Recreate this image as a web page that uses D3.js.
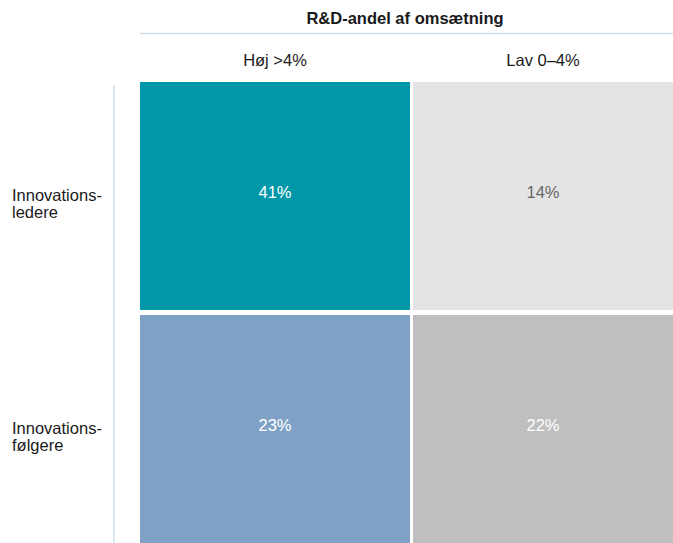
<!DOCTYPE html>
<html>
<head>
<meta charset="utf-8">
<script src="https://cdn.jsdelivr.net/npm/d3@7"></script>
<style>
  html, body { margin: 0; padding: 0; background: #fff; }
  svg { display: block; font-family: "Liberation Sans", Arial, sans-serif; }
</style>
</head>
<body>
<svg id="chart" width="673" height="543"></svg>
<script>
// R&D share of turnover vs. innovation position
const columns = ["Høj >4%", "Lav 0–4%"];
const rows = ["Innovationsledere", "Innovationsfølgere"];
const rowLabels = [["Innovations-", "ledere"], ["Innovations-", "følgere"]];
const values = [
  [41, 14],   // Innovationsledere
  [23, 22]    // Innovationsfølgere
];
const fills = [
  ["#0098a8", "#e4e4e4"],
  ["#7fa1c5", "#bfbfbf"]
];
const textFills = [
  ["#ffffff", "#666666"],
  ["#ffffff", "#ffffff"]
];
const title = "R&D-andel af omsætning";

const W = 673, H = 543;
const svg = d3.select("#chart");

// Cells run past the right edge of the canvas; visible part ends at W
const x = d3.scaleBand().domain(columns).range([140, 683]).paddingInner(0.011);
const y = d3.scaleBand().domain(rows).range([82, 543]).paddingInner(0.0217);
const visibleCenter = c => (x(c) + Math.min(x(c) + x.bandwidth(), W)) / 2;

// Column group title and rule
svg.append("text")
  .attr("x", 405).attr("y", 24)
  .attr("text-anchor", "middle")
  .attr("font-size", 16.5).attr("font-weight", "bold").attr("fill", "#1a1a1a")
  .text(title);
svg.append("line")
  .attr("x1", 140).attr("x2", W).attr("y1", 33.5).attr("y2", 33.5)
  .attr("stroke", "#d3dde9").attr("stroke-width", 1.5);

// Column headers
svg.selectAll("text.col").data(columns).join("text")
  .attr("class", "col")
  .attr("x", d => visibleCenter(d)).attr("y", 66)
  .attr("text-anchor", "middle").attr("font-size", 16.5).attr("fill", "#1a1a1a")
  .text(d => d);

// Left rule beside row labels
svg.append("line")
  .attr("x1", 114).attr("x2", 114).attr("y1", 85).attr("y2", H)
  .attr("stroke", "#dde7f2").attr("stroke-width", 2);

// Row labels
rows.forEach((r, i) => {
  const t = svg.append("text")
    .attr("x", 12).attr("y", y(r) + y.bandwidth() / 2 + 5)
    .attr("font-size", 16.5).attr("fill", "#1a1a1a");
  rowLabels[i].forEach((line, j) => {
    t.append("tspan").attr("x", 12).attr("dy", j === 0 ? 0 : 17).text(line);
  });
});

// Cells
const cells = [];
rows.forEach((r, i) => columns.forEach((c, j) => cells.push({ r, c, v: values[i][j], fill: fills[i][j], tf: textFills[i][j] })));

svg.selectAll("rect.cell").data(cells).join("rect")
  .attr("class", "cell")
  .attr("x", d => x(d.c)).attr("y", d => y(d.r))
  .attr("width", x.bandwidth()).attr("height", y.bandwidth())
  .attr("fill", d => d.fill);

svg.selectAll("text.val").data(cells).join("text")
  .attr("class", "val")
  .attr("x", d => visibleCenter(d.c))
  .attr("y", d => y(d.r) + y.bandwidth() / 2 + 2)
  .attr("text-anchor", "middle").attr("font-size", 16.5)
  .attr("fill", d => d.tf)
  .text(d => d.v + "%");
</script>
</body>
</html>
